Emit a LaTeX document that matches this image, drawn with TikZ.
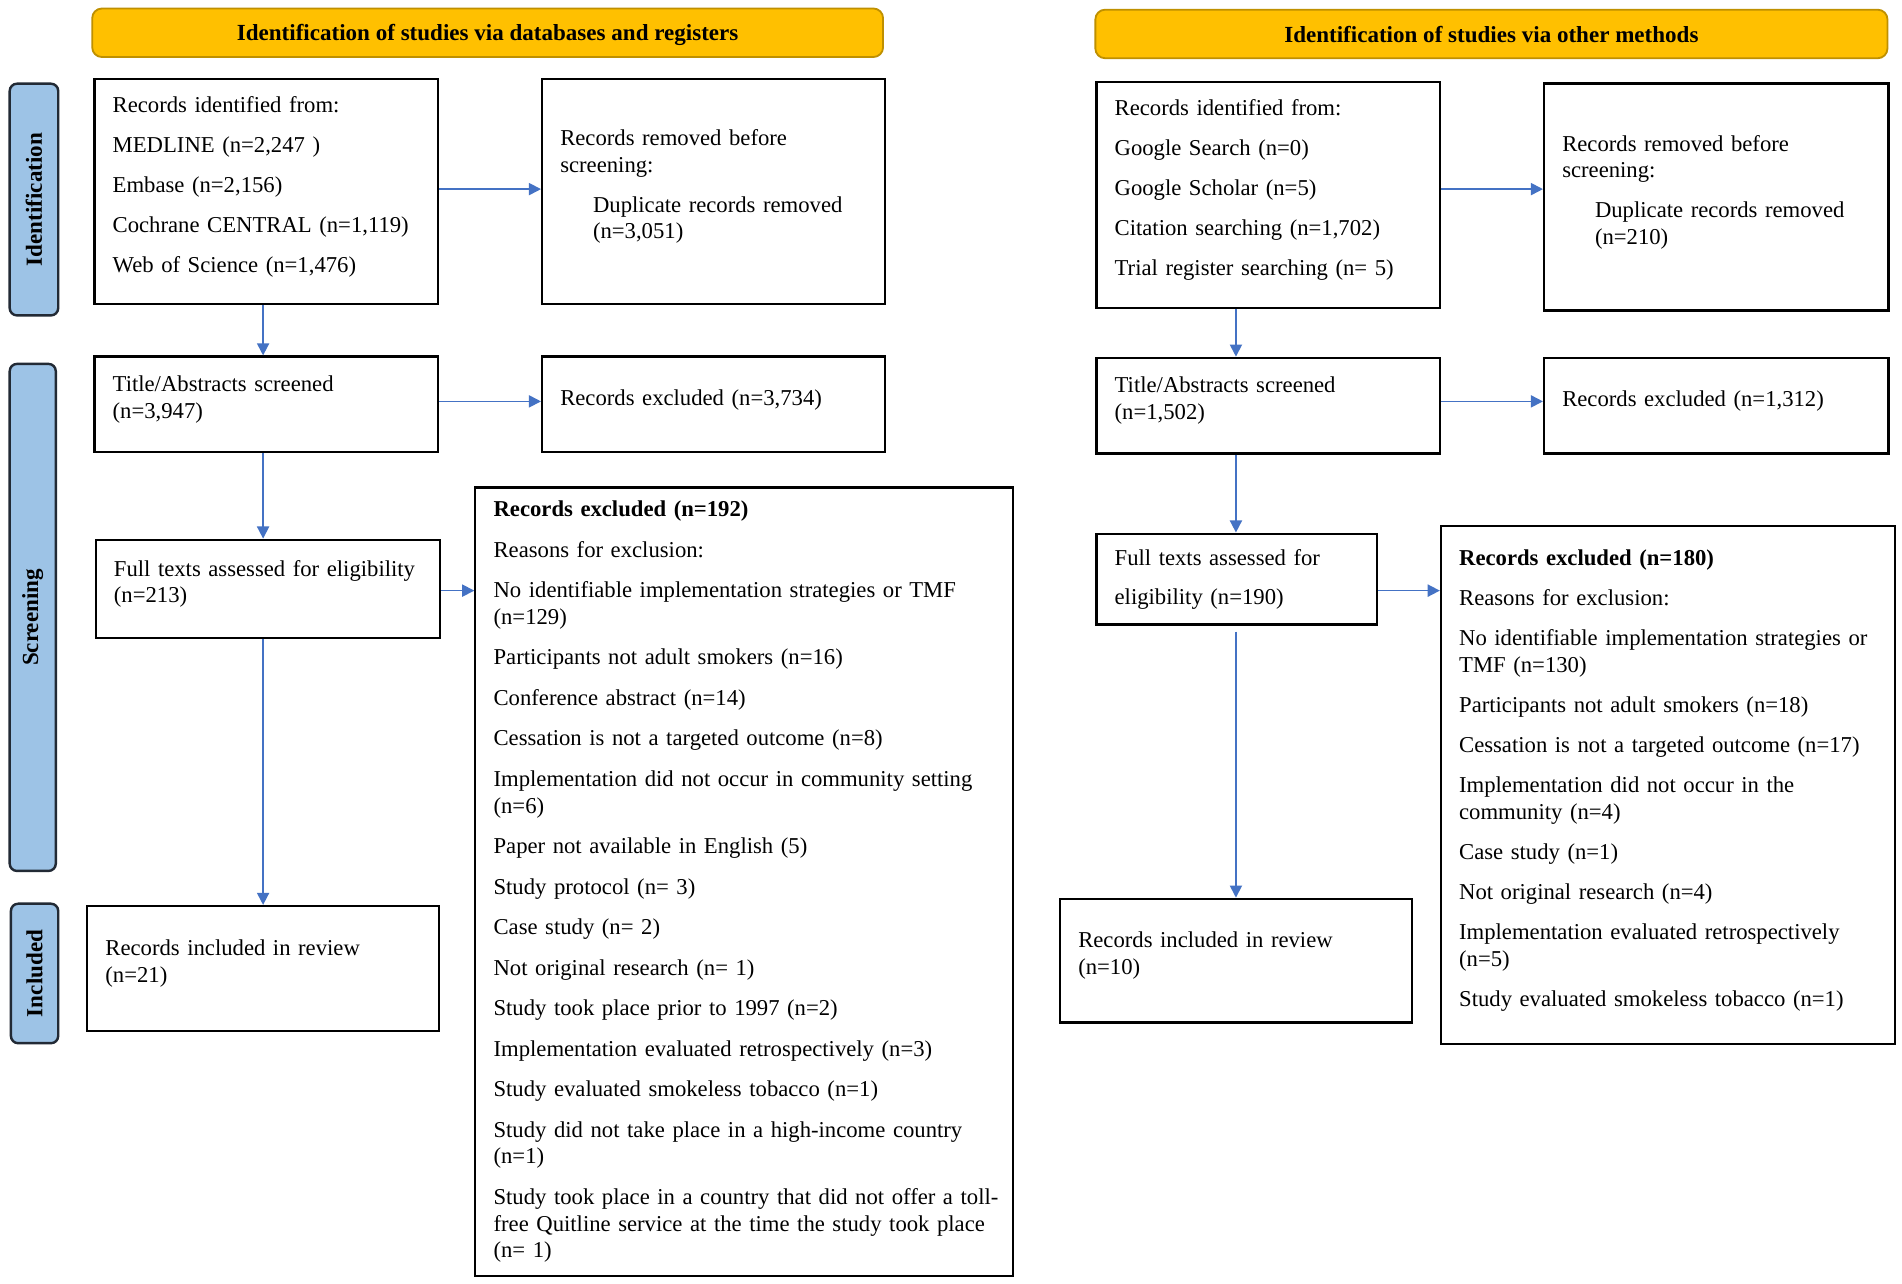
\documentclass[tikz,border=0pt]{standalone}
\usepackage{fontspec}
\setmainfont{Liberation Serif}
\usetikzlibrary{arrows.meta,calc}
\definecolor{arrblue}{HTML}{4472C4}
\definecolor{bannerfill}{HTML}{FFC000}
\definecolor{bannerborder}{HTML}{BF9000}
\definecolor{sidefill}{HTML}{9DC3E6}
\definecolor{sideborder}{HTML}{222A35}
\tikzset{
  box/.style={draw=black, line width=1.8pt, anchor=north west, inner xsep=15pt, inner ysep=3pt, align=left, font=\fontsize{18.7}{22}\selectfont},
  arr/.style={draw=arrblue, line width=1.4pt, -{Triangle[length=10pt,width=10pt]}},
  banner/.style={draw=bannerborder, fill=bannerfill, line width=1.5pt, rounded corners=8pt, text depth=0pt, font=\bfseries\fontsize{19}{22}\selectfont},
  side/.style={draw=sideborder, fill=sidefill, line width=2pt, rounded corners=6pt, rotate=90, font=\bfseries\fontsize{19}{22}\selectfont},
}
\newcommand{\ind}{\hspace*{27pt}}
\newcommand{\padb}{\par\kern8pt\hrule height0pt depth0pt width0pt}
\newcommand{\padt}{\hrule height0pt depth0pt width0pt\kern4pt}
\begin{document}
\begin{tikzpicture}[x=1pt,y=-1pt]
\useasboundingbox (0,0) rectangle (1568,1057.7);
\fill[white] (0,0) rectangle (1568,1057.7);

% banners
\node[banner, minimum width=652pt, minimum height=40pt] (bl) at (402,27) {Identification of studies via databases and registers};
\node[banner, minimum width=653pt, minimum height=40pt] (br) at (1229.5,28) {Identification of studies via other methods};

% side labels
\node[side, minimum width=191pt, minimum height=40pt] (sid) at (28,164.5) {Identification};
\node[side, minimum width=418pt, minimum height=38pt] (ssc) at (27,509) {Screening};
\node[side, minimum width=115pt, minimum height=39pt] (sin) at (28.5,802.5) {Included};

% left column
\node[box, text width=253pt, minimum height=186pt] (A1) at (77,64) {Records identified from:\\[11pt]
MEDLINE (n=2,247 )\\[11pt]
Embase (n=2,156)\\[11pt]
Cochrane CENTRAL (n=1,119)\\[11pt]
Web of Science (n=1,476)\padb};
\node[box, text width=253pt, minimum height=186pt] (A2) at (446,64) {Records removed before\\
screening:\\[11pt]
\ind Duplicate records removed\\
\ind (n=3,051)\padb};
\node[box, text width=253pt, minimum height=79pt] (B1) at (77,293) {Title/Abstracts screened\\(n=3,947)\padb};
\node[box, text width=253pt, minimum height=79pt] (B2) at (446,293) {Records excluded (n=3,734)\padb};
\node[box, text width=254pt, minimum height=81pt] (C1) at (78,444) {Full texts assessed for eligibility\\(n=213)\padb};
\node[box, text width=413pt, minimum height=650pt] (C2) at (391,401) {\textbf{Records excluded (n=192)}\\[11.4pt]
Reasons for exclusion:\\[11.4pt]
No identifiable implementation strategies or TMF\\(n=129)\\[11.4pt]
Participants not adult smokers (n=16)\\[11.4pt]
Conference abstract (n=14)\\[11.4pt]
Cessation is not a targeted outcome (n=8)\\[11.4pt]
Implementation did not occur in community setting\\(n=6)\\[11.4pt]
Paper not available in English (5)\\[11.4pt]
Study protocol (n= 3)\\[11.4pt]
Case study (n= 2)\\[11.4pt]
Not original research (n= 1)\\[11.4pt]
Study took place prior to 1997 (n=2)\\[11.4pt]
Implementation evaluated retrospectively (n=3)\\[11.4pt]
Study evaluated smokeless tobacco (n=1)\\[11.4pt]
Study did not take place in a high-income country\\(n=1)\\[11.4pt]
\mbox{Study took place in a country that did not offer a toll-}\\free Quitline service at the time the study took place\\(n= 1)};
\node[box, text width=260pt, minimum height=103pt] (D1) at (71,746) {Records included in review\\(n=21)\padb};

% right column
\node[box, text width=253pt, minimum height=186pt] (E1) at (903,67) {Records identified from:\\[11pt]
Google Search (n=0)\\[11pt]
Google Scholar (n=5)\\[11pt]
Citation searching (n=1,702)\\[11pt]
Trial register searching (n= 5)\padb};
\node[box, text width=254pt, minimum height=187pt] (E2) at (1272,68) {Records removed before\\
screening:\\[11pt]
\ind Duplicate records removed\\
\ind (n=210)\padb};
\node[box, text width=253pt, minimum height=79pt] (F1) at (903,294) {Title/Abstracts screened\\(n=1,502)\padb};
\node[box, text width=254pt, minimum height=79pt] (F2) at (1272,294) {Records excluded (n=1,312)\padb};
\node[box, text width=201pt, minimum height=75pt] (G1) at (903,439) {Full texts assessed for\\[10pt]eligibility (n=190)};
\node[box, text width=344pt, minimum height=427pt] (G2) at (1187,433) {\textbf{Records excluded (n=180)}\\[11pt]
Reasons for exclusion:\\[11pt]
No identifiable implementation strategies or\\TMF (n=130)\\[11pt]
Participants not adult smokers (n=18)\\[11pt]
Cessation is not a targeted outcome (n=17)\\[11pt]
Implementation did not occur in the\\community (n=4)\\[11pt]
Case study (n=1)\\[11pt]
Not original research (n=4)\\[11pt]
Implementation evaluated retrospectively\\(n=5)\\[11pt]
Study evaluated smokeless tobacco (n=1)\padb};
\node[box, text width=260pt, minimum height=102pt] (H1) at (873,740) {Records included in review\\(n=10)\padb};

% arrows left
\draw[arr] ([yshift=2pt]A1.east) -- ([yshift=2pt]A1.east -| A2.west);
\draw[arr] (A1.south -| D1.north) -- (B1.north -| D1.north);
\draw[arr] ([yshift=2.5pt]B1.east) -- ([yshift=2.5pt]B1.east -| B2.west);
\draw[arr] (B1.south -| D1.north) -- (C1.north -| D1.north);
\draw[arr] ([yshift=-1.5pt]C1.east) -- ([yshift=-1.5pt]C1.east -| C2.west);
\draw[arr] (C1.south -| D1.north) -- (D1.north);

% arrows right
\draw[arr] ([yshift=5pt]E1.east) -- ([yshift=5pt]E1.east -| E2.west);
\draw[arr] (E1.south -| H1.north) -- (F1.north -| H1.north);
\draw[arr] ([yshift=3.5pt]F1.east) -- ([yshift=3.5pt]F1.east -| F2.west);
\draw[arr] (F1.south -| H1.north) -- (G1.north -| H1.north);
\draw[arr] ([yshift=-9.5pt]G1.east) -- ([yshift=-9.5pt]G1.east -| G2.west);
\draw[arr] ([yshift=-5pt]G1.south -| H1.north) -- (H1.north);
\end{tikzpicture}
\end{document}
